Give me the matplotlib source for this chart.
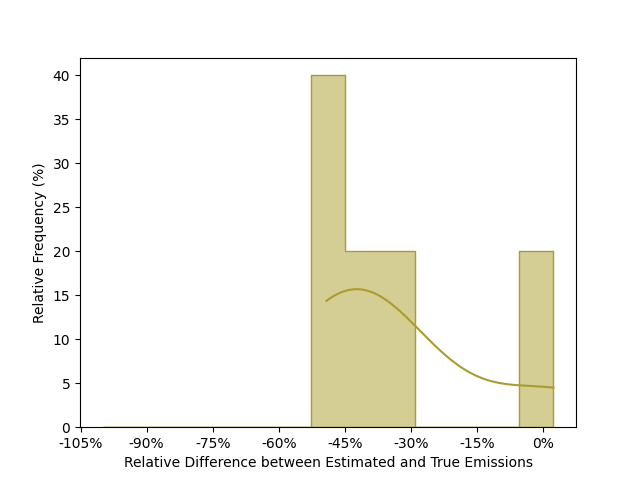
import numpy as np
import matplotlib
matplotlib.use("Agg")
import matplotlib.pyplot as plt
import seaborn as sns
from matplotlib.ticker import MultipleLocator, FuncFormatter

# relative differences (%) between estimated and true emissions
rel_diff = [-49.2, -45.5, -40.5, -34.5, 2.3]
bin_start = -100.0
n_bins = 13
line_color = "#ab9c2b"

bins = np.linspace(bin_start, max(rel_diff), n_bins + 1)

fig, ax = plt.subplots(figsize=(6.4, 4.8), dpi=100)
sns.histplot(x=rel_diff, bins=bins, stat="percent", kde=True, element="step",
             color=line_color, alpha=0.5, ax=ax)

ax.xaxis.set_major_locator(MultipleLocator(15))
ax.xaxis.set_major_formatter(FuncFormatter(lambda v, p: f"{v:.0f}%"))
ax.set_xlabel("Relative Difference between Estimated and True Emissions")
ax.set_ylabel("Relative Frequency (%)")

fig.savefig("out.png")
